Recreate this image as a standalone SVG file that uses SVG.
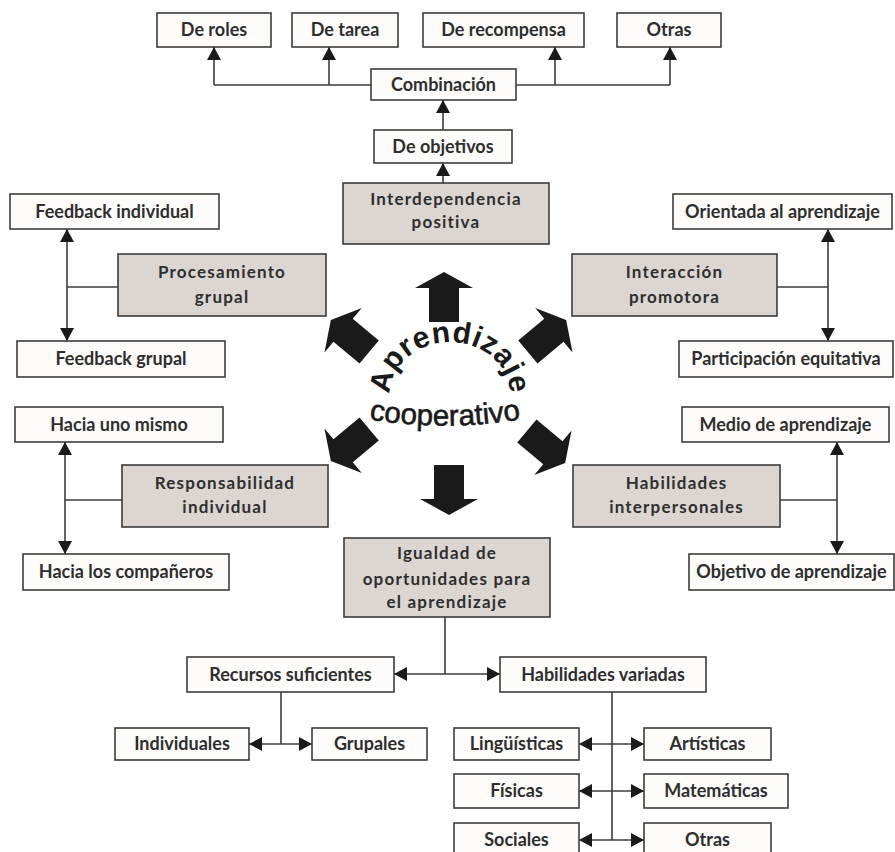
<svg xmlns="http://www.w3.org/2000/svg" width="895" height="852" viewBox="0 0 895 852">
<style>
.b rect{fill:#fdfcfb;stroke:#3c3c3c;stroke-width:1.6}
.g rect{fill:#dcd6d3;stroke:#3c3c3c;stroke-width:1.6}
text{font-family:Lato,"Open Sans","Liberation Sans",sans-serif;font-weight:bold;fill:#2e2e2e;text-anchor:middle}
.b text{font-size:18px}
.g text{font-size:17px;letter-spacing:1.2px}
.c path{fill:none;stroke:#3c3c3c;stroke-width:1.6}
.c .a{marker-end:url(#ah)}
.c .aa{marker-start:url(#ah);marker-end:url(#ah)}
.big{fill:#1a1a1a}
text.w{font-family:"Liberation Sans",Arial,sans-serif;fill:#1a1a1a}
text.wb{font-size:30px;font-weight:bold;letter-spacing:0.5px}
text.wn{font-size:29.5px;font-weight:normal;stroke:#1a1a1a;stroke-width:0.6px}
</style>
<defs>
<marker id="ah" viewBox="0 0 13 14" refX="13" refY="7" markerWidth="13" markerHeight="14" markerUnits="userSpaceOnUse" orient="auto-start-reverse"><path d="M0,0 L13,7 L0,14 z" fill="#1a1a1a"/></marker>
<path id="bigA" d="M0,-25 L29,-9 L15,-9 L15,25 L-15,25 L-15,-9 L-29,-9 Z"/>
<path id="arcA" d="M392,407.5 A60,52 0 1,1 508,407.5" fill="none"/>
<path id="arcC" d="M356,417 A460,460 0 0,0 534,417" fill="none"/>
</defs>

<g id="connectors" class="c">
<path d="M214,85 H371 M516,85 H670"/>
<path class="a" d="M214,85 V47"/>
<path class="a" d="M329,85 V47"/>
<path class="a" d="M555,85 V47"/>
<path class="a" d="M670,85 V47"/>
<path class="a" d="M443,130 V100"/>
<path class="a" d="M443,183 V163"/>
<path class="aa" d="M67,229 V341"/>
<path d="M67,287 H118"/>
<path class="aa" d="M828,229 V341"/>
<path d="M777,287 H828"/>
<path class="aa" d="M65,442 V554"/>
<path d="M65,500 H122"/>
<path class="aa" d="M837,442 V554"/>
<path d="M780,500 H837"/>
<path d="M445,617 V674"/>
<path class="aa" d="M394,674 H500"/>
<path d="M281,692 V744"/>
<path class="aa" d="M249,744 H312"/>
<path d="M612,692 V840"/>
<path class="aa" d="M579,744 H644"/>
<path class="aa" d="M579,791 H644"/>
<path class="aa" d="M579,840 H644"/>
</g>

<g id="center">
<use href="#bigA" class="big" transform="translate(444,297)"/>
<use href="#bigA" class="big" transform="translate(449,490) rotate(180)"/>
<use href="#bigA" class="big" transform="translate(350,336) rotate(-50)"/>
<use href="#bigA" class="big" transform="translate(547,336) rotate(50)"/>
<use href="#bigA" class="big" transform="translate(350,445) rotate(-130)"/>
<use href="#bigA" class="big" transform="translate(546,447) rotate(130)"/>
<text class="w wb"><textPath href="#arcA" startOffset="50%">Aprendizaje</textPath></text>
<text class="w wn"><textPath href="#arcC" startOffset="50%">cooperativo</textPath></text>
</g>

<g id="roles" class="b"><rect x="157" y="13" width="114" height="34"/><text x="214" y="36">De roles</text></g>
<g id="tarea" class="b"><rect x="292" y="13" width="106" height="34"/><text x="345" y="36">De tarea</text></g>
<g id="recompensa" class="b"><rect x="423" y="13" width="161" height="34"/><text x="503.5" y="36">De recompensa</text></g>
<g id="otras-top" class="b"><rect x="617" y="13" width="104" height="34"/><text x="669" y="36">Otras</text></g>
<g id="combinacion" class="b"><rect x="371" y="69" width="145" height="31"/><text x="443.5" y="90.5">Combinación</text></g>
<g id="objetivos" class="b"><rect x="374" y="130" width="138" height="33"/><text x="443" y="152.5">De objetivos</text></g>
<g id="interdependencia" class="g"><rect x="343" y="183" width="206" height="61"/><text x="446" y="205">Interdependencia</text><text x="446" y="228">positiva</text></g>

<g id="feedback-ind" class="b"><rect x="10" y="194" width="209" height="35"/><text x="114.5" y="217.5">Feedback individual</text></g>
<g id="procesamiento" class="g"><rect x="118" y="254" width="208" height="62"/><text x="222" y="278">Procesamiento</text><text x="222" y="303">grupal</text></g>
<g id="feedback-grp" class="b"><rect x="17" y="341" width="208" height="36"/><text x="121" y="365">Feedback grupal</text></g>

<g id="orientada" class="b"><rect x="673" y="194" width="219" height="35"/><text x="782.5" y="217.5">Orientada al aprendizaje</text></g>
<g id="interaccion" class="g"><rect x="572" y="254" width="205" height="62"/><text x="674.5" y="278">Interacción</text><text x="674.5" y="303">promotora</text></g>
<g id="participacion" class="b"><rect x="679" y="341" width="214" height="36"/><text x="786" y="365">Participación equitativa</text></g>

<g id="hacia-uno" class="b"><rect x="15" y="407" width="208" height="35"/><text x="119" y="430.5">Hacia uno mismo</text></g>
<g id="responsabilidad" class="g"><rect x="122" y="465" width="206" height="62"/><text x="225" y="489">Responsabilidad</text><text x="225" y="513">individual</text></g>
<g id="hacia-comp" class="b"><rect x="23" y="554" width="206" height="36"/><text x="126" y="578">Hacia los compañeros</text></g>

<g id="medio" class="b"><rect x="682" y="407" width="207" height="35"/><text x="785.5" y="430.5">Medio de aprendizaje</text></g>
<g id="habilidades-int" class="g"><rect x="573" y="465" width="207" height="62"/><text x="676.5" y="489">Habilidades</text><text x="676.5" y="513">interpersonales</text></g>
<g id="objetivo-apr" class="b"><rect x="689" y="554" width="205" height="36"/><text x="791.5" y="578">Objetivo de aprendizaje</text></g>

<g id="igualdad" class="g"><rect x="344" y="538" width="206" height="79"/><text x="447" y="559">Igualdad de</text><text x="447" y="585">oportunidades para</text><text x="447" y="608">el aprendizaje</text></g>
<g id="recursos" class="b"><rect x="187" y="657" width="207" height="35"/><text x="290.5" y="680.5">Recursos suficientes</text></g>
<g id="habilidades-var" class="b"><rect x="500" y="657" width="206" height="35"/><text x="603" y="680.5">Habilidades variadas</text></g>
<g id="individuales" class="b"><rect x="115" y="728" width="134" height="32"/><text x="182" y="750">Individuales</text></g>
<g id="grupales" class="b"><rect x="312" y="728" width="115" height="32"/><text x="369.5" y="750">Grupales</text></g>
<g id="linguisticas" class="b"><rect x="454" y="728" width="125" height="32"/><text x="516.5" y="750">Lingüísticas</text></g>
<g id="artisticas" class="b"><rect x="644" y="728" width="127" height="32"/><text x="707.5" y="750">Artísticas</text></g>
<g id="fisicas" class="b"><rect x="454" y="774" width="125" height="34"/><text x="516.5" y="797">Físicas</text></g>
<g id="matematicas" class="b"><rect x="644" y="774" width="144" height="34"/><text x="716" y="797">Matemáticas</text></g>
<g id="sociales" class="b"><rect x="454" y="823" width="125" height="34"/><text x="516.5" y="846">Sociales</text></g>
<g id="otras-bottom" class="b"><rect x="644" y="823" width="127" height="34"/><text x="707.5" y="846">Otras</text></g>
</svg>
